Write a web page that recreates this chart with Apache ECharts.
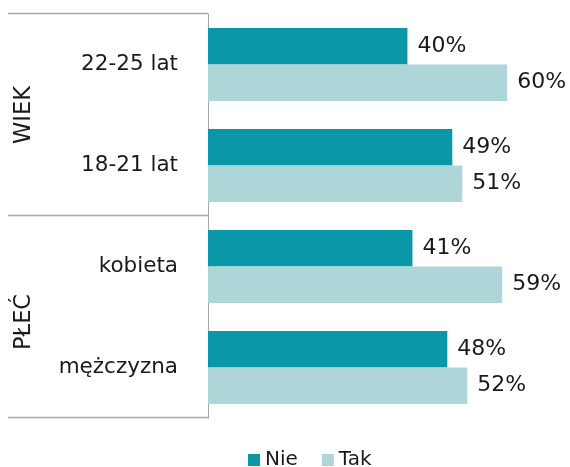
<!DOCTYPE html>
<html>
<head>
<meta charset="utf-8">
<script src="https://cdn.jsdelivr.net/npm/echarts@6/dist/echarts.min.js"></script>
<style>
  html, body { margin: 0; padding: 0; background: #fff; }
  #chart { width: 570px; height: 467px; }
</style>
</head>
<body>
<div id="chart"></div>
<script>
// Survey answers by age group and sex (percent)
const categories = ['22-25 lat', '18-21 lat', 'kobieta', 'mężczyzna'];
const nieValues = [40, 49, 41, 48];
const takValues = [60, 51, 59, 52];
const seriesNames = ['Nie', 'Tak'];
// Group captions and the category range each one spans
const groups = [
  { name: 'WIEK', from: 0, to: 1, shift: 0 },
  { name: 'PŁEĆ', from: 2, to: 3, shift: 5 }
];

const FONT = "'DejaVu Sans', sans-serif";
const LINE = '#a6a6a6';
const chart = echarts.init(document.getElementById('chart'));

const labelStyle = {
  show: true,
  position: 'right',
  distance: 10,
  formatter: '{c}%',
  color: '#1a1a1a',
  fontSize: 22,
  fontFamily: FONT
};

chart.setOption({
  animation: false,
  grid: { left: 208, right: 13, top: 14, bottom: 49 },
  xAxis: {
    type: 'value', min: 0, max: 70,
    show: false
  },
  yAxis: {
    type: 'category',
    data: categories,
    inverse: true,
    axisLine: { show: true, lineStyle: { color: LINE, width: 1 } },
    axisTick: { show: false },
    axisLabel: { margin: 30, color: '#1a1a1a', fontSize: 21.5, fontFamily: FONT }
  },
  legend: {
    data: seriesNames,
    left: 243, top: 445,
    itemWidth: 12, itemHeight: 12, itemGap: 24,
    icon: 'rect',
    textStyle: { color: '#1a1a1a', fontSize: 20, fontFamily: FONT }
  },
  series: [
    {
      name: seriesNames[0], type: 'bar', data: nieValues,
      barGap: '0%', barCategoryGap: '27.7%',
      itemStyle: { color: '#0a97a8' },
      label: labelStyle
    },
    {
      name: seriesNames[1], type: 'bar', data: takValues,
      barGap: '0%', barCategoryGap: '27.7%',
      itemStyle: { color: '#aed6d8' },
      label: labelStyle
    }
  ]
});

// Group frame lines and rotated captions on the left side
function drawGroups() {
  const c0 = chart.convertToPixel({ yAxisIndex: 0 }, 0);
  const c1 = chart.convertToPixel({ yAxisIndex: 0 }, 1);
  const step = c1 - c0;
  const edge = (i) => c0 + (i - 0.5) * step;
  const axisX = chart.convertToPixel({ xAxisIndex: 0 }, 0);
  const x0 = 8;
  const elements = [];
  const boundaries = new Set();
  groups.forEach((g) => {
    boundaries.add(Math.round(edge(g.from)));
    boundaries.add(Math.round(edge(g.to + 1)));
  });
  boundaries.forEach((y) => {
    elements.push({
      type: 'line',
      shape: { x1: x0, y1: y - 0.5, x2: axisX, y2: y - 0.5 },
      style: { stroke: LINE, lineWidth: 1.5 },
      silent: true
    });
  });
  groups.forEach((g) => {
    const mid = (edge(g.from) + edge(g.to + 1)) / 2 + g.shift;
    elements.push({
      type: 'text',
      x: 24, y: mid,
      rotation: Math.PI / 2,
      style: {
        text: g.name, fill: '#1a1a1a', fontSize: 22.5, fontFamily: FONT,
        align: 'center', verticalAlign: 'middle'
      },
      silent: true
    });
  });
  chart.setOption({ graphic: { elements } });
}
drawGroups();
</script>
</body>
</html>
